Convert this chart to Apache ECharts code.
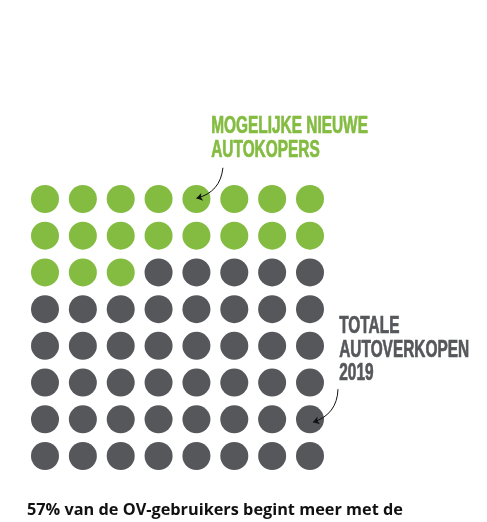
<!DOCTYPE html>
<html>
<head>
<meta charset="utf-8">
<script src="https://cdn.jsdelivr.net/npm/echarts@6/dist/echarts.min.js"></script>
<style>html,body{margin:0;padding:0;background:#fff}#c{width:487px;height:522px}</style>
</head>
<body>
<div id="c"></div>
<script>
// Data
const groupLabels = ['MOGELIJKE NIEUWE\nAUTOKOPERS', 'TOTALE\nAUTOVERKOPEN\n2019'];
const groupCounts = [19, 45];           // green dots, gray dots (total 64)
const gridCols = 8;
const gridRows = 8;
const footnote = ['57% van de OV-gebruikers begint meer met de'];

const GREEN = '#84bc41';
const GRAY = '#55575b';

// build waffle cells from counts
const greenData = [], grayData = [];
let idx = 0;
groupCounts.forEach(function (n, g) {
  for (let k = 0; k < n; k++) {
    const cell = [idx % gridCols, Math.floor(idx / gridCols)];
    (g === 0 ? greenData : grayData).push(cell);
    idx++;
  }
});

// annotation arrows in data coordinates
const arrowLines = [
  { coords: [[4.70, -0.85], [4.0, -0.02]] },
  { coords: [[7.74, 5.18], [7.08, 6.08]] }
];

const chart = echarts.init(document.getElementById('c'), null, { renderer: 'canvas' });
const headStyle = {
  fontFamily: 'Liberation Sans',
  fontWeight: 'bold',
  fontSize: 23,
  lineHeight: 23.5,
  lineWidth: 0.7
};
chart.setOption({
  animation: false,
  grid: { left: 45, top: 199, width: 265, height: 257, containLabel: false },
  xAxis: { type: 'value', min: 0, max: 7, show: false },
  yAxis: { type: 'value', min: 0, max: 7, inverse: true, show: false },
  series: [
    { type: 'scatter', data: greenData, symbol: 'circle', symbolSize: 28,
      itemStyle: { color: GREEN, opacity: 1 }, silent: true },
    { type: 'scatter', data: grayData, symbol: 'circle', symbolSize: 28,
      itemStyle: { color: GRAY, opacity: 1 }, silent: true },
    { type: 'lines', coordinateSystem: 'cartesian2d', data: arrowLines, clip: false,
      symbol: ['none', 'arrow'], symbolSize: 6,
      lineStyle: { color: '#111', width: 1, curveness: 0.35, opacity: 1 }, silent: true, z: 5 }
  ],
  graphic: [
    { type: 'text', left: 211, top: 115, scaleX: 0.67,
      style: Object.assign({ text: groupLabels[0], fill: GREEN, stroke: GREEN }, headStyle) },
    { type: 'text', left: 339, top: 315, scaleX: 0.67,
      style: Object.assign({ text: groupLabels[1], fill: GRAY, stroke: GRAY }, headStyle) },
    { type: 'text', left: 27, top: 502,
      style: { text: footnote[0], fill: '#111', fontFamily: 'Open Sans', fontWeight: 'bold', fontSize: 16.3 } }
  ]
});
</script>
</body>
</html>
